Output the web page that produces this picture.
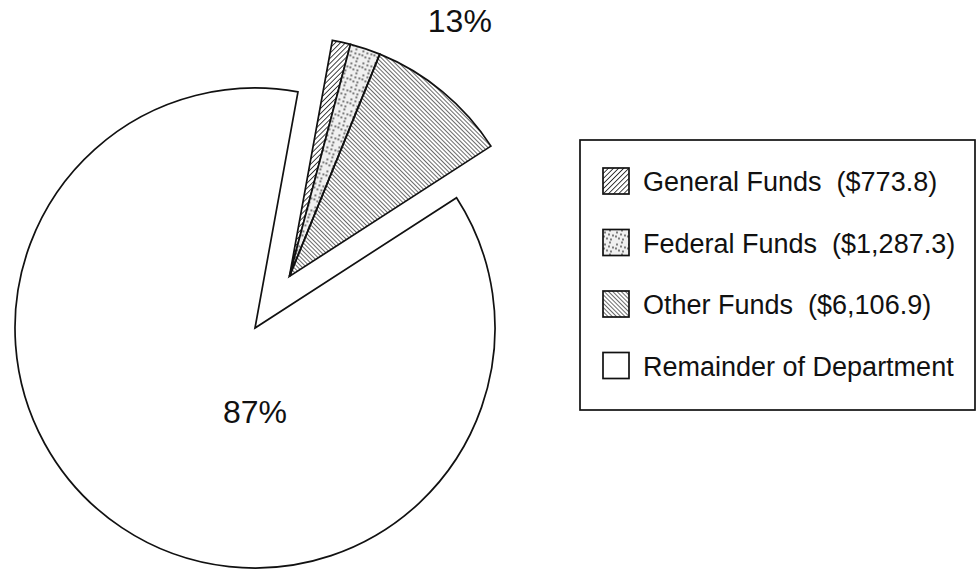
<!DOCTYPE html>
<html>
<head>
<meta charset="utf-8">
<script src="https://cdn.jsdelivr.net/npm/d3@7"></script>
<style>
  body { margin: 0; background: #fff; }
  svg { display: block; font-family: "Liberation Sans", Arial, Helvetica, sans-serif; }
</style>
</head>
<body>
<div id="chart"></div>
<script>
"use strict";

// fund sources (millions), remainder estimated from the 87% share
var categories = ["General Funds", "Federal Funds", "Other Funds", "Remainder of Department"];
var amounts = [773.8, 1287.3, 6106.9, 54660];
var amountLabels = ["($773.8)", "($1,287.3)", "($6,106.9)", ""];
var patterns = ["general", "federal", "other", "none"];
var exploded = [true, true, true, false];
var shareLabels = ["13%", "87%"];

var width = 976,
  height = 569,
  radius = 240,
  cx = 255,
  cy = 328,
  explode = 62;

var svg = d3
  .select("#chart")
  .append("svg")
  .attr("width", width)
  .attr("height", height);

svg
  .append("rect")
  .attr("width", width)
  .attr("height", height)
  .style("fill", "#fff");

// fill patterns
var defs = svg.append("defs");

defs
  .append("pattern")
  .attr("id", "general")
  .attr("patternUnits", "userSpaceOnUse")
  .attr("width", 3.6)
  .attr("height", 3.6)
  .attr("patternTransform", "rotate(45)")
  .append("line")
  .attr("x1", 0)
  .attr("y1", 0)
  .attr("x2", 0)
  .attr("y2", 3.6)
  .style("stroke", "#111")
  .style("stroke-width", 1.6);

defs
  .append("pattern")
  .attr("id", "other")
  .attr("patternUnits", "userSpaceOnUse")
  .attr("width", 3)
  .attr("height", 3)
  .attr("patternTransform", "rotate(-45)")
  .append("line")
  .attr("x1", 0)
  .attr("y1", 0)
  .attr("x2", 0)
  .attr("y2", 3)
  .style("stroke", "#1a1a1a")
  .style("stroke-width", 1.3);

var fed = defs
  .append("pattern")
  .attr("id", "federal")
  .attr("patternUnits", "userSpaceOnUse")
  .attr("width", 12)
  .attr("height", 12);
fed
  .append("rect")
  .attr("width", 12)
  .attr("height", 12)
  .style("fill", "#f0f0f0");
[[2, 3], [7, 1], [10, 6], [4, 9], [8, 10], [1, 7], [6, 5]].forEach(function(p) {
  fed
    .append("circle")
    .attr("cx", p[0])
    .attr("cy", p[1])
    .attr("r", 0.9)
    .style("fill", "#444");
});

function fillFor(i) {
  return patterns[i] == "none" ? "#fff" : "url(#" + patterns[i] + ")";
}

var start = 0.18;
var pie = d3
  .pie()
  .sort(null)
  .value(function(d) {
    return d;
  })
  .startAngle(start)
  .endAngle(start + 2 * Math.PI);

var arcs = pie(amounts);

var arc = d3
  .arc()
  .innerRadius(0)
  .outerRadius(radius);

// mid angle of the exploded group
var groupStart = arcs[0].startAngle,
  groupEnd = arcs[2].endAngle,
  mid = (groupStart + groupEnd) / 2;
var dx = Math.sin(mid) * explode,
  dy = -Math.cos(mid) * explode;

var g = svg.append("g").attr("transform", "translate(" + cx + "," + cy + ")");

g.selectAll("path.slice")
  .data(arcs)
  .enter()
  .append("path")
  .attr("class", "slice")
  .attr("d", arc)
  .attr("transform", function(d, i) {
    return exploded[i] ? "translate(" + dx + "," + dy + ")" : null;
  })
  .style("fill", function(d, i) {
    return fillFor(i);
  })
  .style("stroke", "#111")
  .style("stroke-width", 1.7)
  .style("stroke-linejoin", "miter");

// share labels
var labelArc = d3
  .arc()
  .innerRadius(369)
  .outerRadius(369);
var pos = labelArc.centroid({ startAngle: groupStart, endAngle: groupEnd });

g.append("text")
  .attr("x", pos[0])
  .attr("y", pos[1])
  .attr("dy", "0.35em")
  .style("text-anchor", "middle")
  .style("font-size", "32px")
  .style("fill", "#111")
  .text(shareLabels[0]);

g.append("text")
  .attr("x", 0)
  .attr("y", 84)
  .attr("dy", "0.35em")
  .style("text-anchor", "middle")
  .style("font-size", "32px")
  .style("fill", "#111")
  .text(shareLabels[1]);

// legend
var legend = svg.append("g").attr("transform", "translate(580,140)");

legend
  .append("rect")
  .attr("width", 395)
  .attr("height", 270)
  .style("fill", "none")
  .style("stroke", "#111")
  .style("stroke-width", 1.7);

var rows = legend
  .selectAll("g.row")
  .data(categories)
  .enter()
  .append("g")
  .attr("class", "row")
  .attr("transform", function(d, i) {
    return "translate(23," + (28 + i * 61.5) + ")";
  });

rows
  .append("rect")
  .attr("width", 26)
  .attr("height", 26)
  .style("fill", function(d, i) {
    return fillFor(i);
  })
  .style("stroke", "#111")
  .style("stroke-width", 1.7);

rows
  .append("text")
  .attr("x", 40)
  .attr("y", 23)
  .style("font-size", "27px")
  .style("fill", "#111")
  .style("white-space", "pre")
  .text(function(d, i) {
    return amountLabels[i] ? d + "  " + amountLabels[i] : d;
  });
</script>
</body>
</html>
